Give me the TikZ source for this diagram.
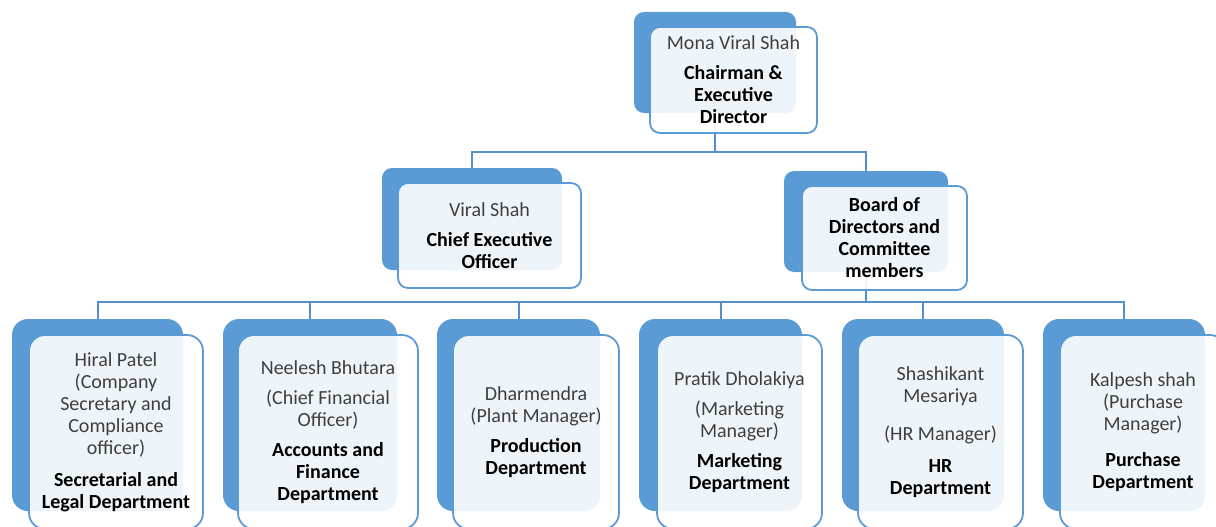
\documentclass[tikz,border=0pt]{standalone}
\usepackage{fontspec}
\setmainfont{Carlito}
\definecolor{accent}{HTML}{5B9BD5}
\definecolor{linkblue}{HTML}{5590CC}
\definecolor{namegray}{HTML}{3F3F3F}
\newcommand\rolename[1]{\textcolor{black}{\textbf{#1}}}

\begin{document}
\begin{tikzpicture}[x=1pt,y=-1pt,
  backbox/.style={rectangle, fill=accent, inner sep=0pt},
  frontbox/.style={rectangle, draw=accent, line width=1.8pt, fill=white,
    fill opacity=0.9, text opacity=1, inner sep=0pt, align=center,
    font=\fontsize{20}{22}\selectfont, text=namegray},
  link/.style={draw=linkblue, line width=2pt},
  upper/.style={rounded corners=10pt},
  lower/.style={rounded corners=16pt},
]
\useasboundingbox (0,0) rectangle (1216,527);
\clip (0,0) rectangle (1216,527);

% solid back panels
\node[backbox, upper, minimum width=162pt, minimum height=101pt] (chairB) at (715,62.5) {};
\node[backbox, upper, minimum width=180pt, minimum height=102pt] (ceoB) at (472,219) {};
\node[backbox, upper, minimum width=164pt, minimum height=101pt] (boardB) at (866,221.5) {};
\node[backbox, lower, minimum width=171pt, minimum height=192pt] (secB) at (97.5,415) {};
\node[backbox, lower, minimum width=174pt, minimum height=192pt] (accB) at (310,415) {};
\node[backbox, lower, minimum width=163pt, minimum height=192pt] (prodB) at (518.5,415) {};
\node[backbox, lower, minimum width=163pt, minimum height=192pt] (mktB) at (720.5,415) {};
\node[backbox, lower, minimum width=162pt, minimum height=192pt] (hrB) at (923,415) {};
\node[backbox, lower, minimum width=162pt, minimum height=192pt] (purB) at (1124,415) {};

% connectors
\coordinate (busTop) at (0,152);
\coordinate (busLow) at (0,302);
\draw[link] (chairB.south) -- (chairB.south |- busTop) -| (ceoB.north);
\draw[link] (chairB.south |- busTop) -| (boardB.north);
\draw[link] (boardB.south) -- (boardB.south |- busLow);
\foreach \b in {secB,accB,prodB,mktB,hrB,purB}
  \draw[link] (boardB.south |- busLow) -| (\b.north);

% translucent front cards with the texts
\node[frontbox, upper, minimum width=167pt, minimum height=106pt] (chair) at (733.5,80)
  {Mona Viral Shah\\[8pt]\rolename{Chairman \&}\\\rolename{Executive}\\\rolename{Director}};
\node[frontbox, upper, minimum width=183pt, minimum height=105pt] (ceo) at (489.5,235.5)
  {Viral Shah\\[8pt]\rolename{Chief Executive}\\\rolename{Officer}};
\node[frontbox, upper, minimum width=165pt, minimum height=104pt] (board) at (884.5,238)
  {\rolename{Board of}\\\rolename{Directors and}\\\rolename{Committee}\\\rolename{members}};

\node[frontbox, lower, minimum width=174pt, minimum height=194pt] (sec) at (116,432)
  {Hiral Patel\\(Company\\Secretary and\\Compliance\\officer)\\[10pt]\rolename{Secretarial and}\\\rolename{Legal Department}};
\node[frontbox, lower, minimum width=180pt, minimum height=194pt] (acc) at (328,432)
  {Neelesh Bhutara\\[8pt](Chief Financial\\Officer)\\[8pt]\rolename{Accounts and}\\\rolename{Finance}\\\rolename{Department}};
\node[frontbox, lower, minimum width=166pt, minimum height=194pt] (prod) at (536,432)
  {Dharmendra\\(Plant Manager)\\[8pt]\rolename{Production}\\\rolename{Department}};
\node[frontbox, lower, minimum width=165pt, minimum height=194pt] (mkt) at (739.5,432)
  {Pratik Dholakiya\\[8pt](Marketing\\Manager)\\[8pt]\rolename{Marketing}\\\rolename{Department}};
\node[frontbox, lower, minimum width=165pt, minimum height=194pt] (hr) at (940.5,432)
  {Shashikant\\Mesariya\\[16pt](HR Manager)\\[10pt]\rolename{HR}\\\rolename{Department}};
\node[frontbox, lower, minimum width=166pt, minimum height=194pt] (pur) at (1143,432)
  {Kalpesh shah\\(Purchase\\Manager)\\[14pt]\rolename{Purchase}\\\rolename{Department}};
\end{tikzpicture}
\end{document}
